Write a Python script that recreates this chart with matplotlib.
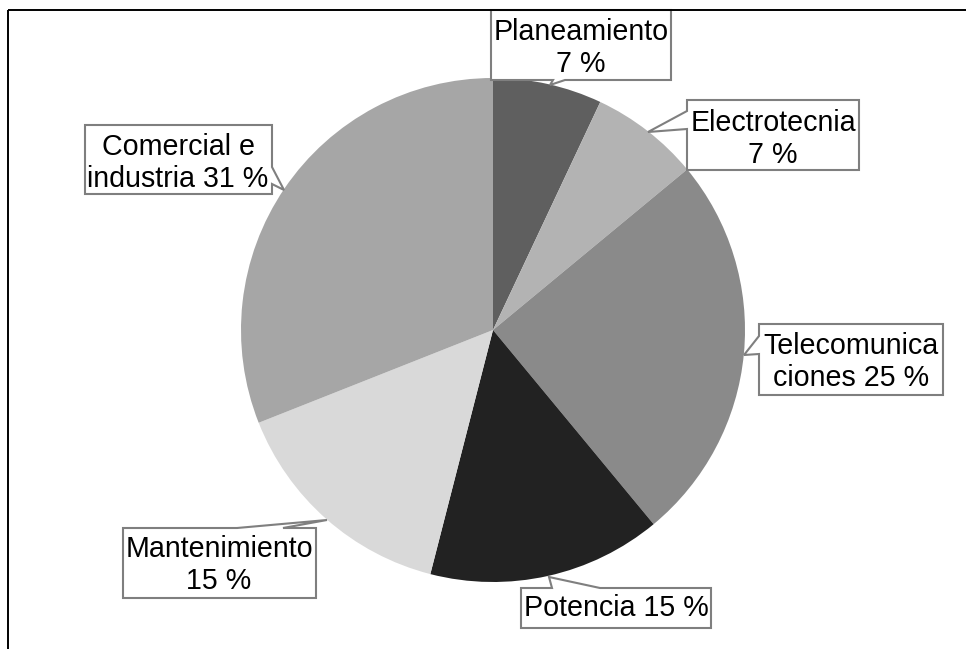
import matplotlib
matplotlib.use("Agg")
import matplotlib.pyplot as plt
from matplotlib.patches import Polygon

plt.rcParams['font.family'] = ['Liberation Sans', 'DejaVu Sans']

categories = ["Planeamiento", "Electrotecnia", "Telecomunicaciones", "Potencia",
              "Mantenimiento", "Comercial e industria"]
values = [7, 7, 25, 15, 15, 31]
label_texts = ["Planeamiento\n7 %", "Electrotecnia\n7 %", "Telecomunica\nciones 25 %",
               "Potencia 15 %", "Mantenimiento\n15 %", "Comercial e\nindustria 31 %"]
colors = ["#5f5f5f", "#b3b3b3", "#8a8a8a", "#222222", "#d9d9d9", "#a6a6a6"]

W, H = 966, 649
fig = plt.figure(figsize=(W / 100, H / 100), dpi=100)

# pie axes: centre (493, 330) px, radius 252 px
cx, cy, r = 493, 330, 252
ax = fig.add_axes([(cx - r) / W, (H - cy - r) / H, 2 * r / W, 2 * r / H])
ax.pie(values, colors=colors, startangle=90, counterclock=False, radius=1,
       wedgeprops=dict(linewidth=0))
ax.set_xlim(-1, 1)
ax.set_ylim(-1, 1)
ax.set_aspect('equal')
ax.axis('off')

# overlay in pixel coordinates for frame and callouts
ov = fig.add_axes([0, 0, 1, 1])
ov.set_xlim(0, W)
ov.set_ylim(H, 0)
ov.axis('off')
ov.patch.set_alpha(0)

ov.plot([8, W + 5], [10, 10], color='black', lw=1.4, solid_capstyle='butt')
ov.plot([8, 8], [10, H + 5], color='black', lw=1.4, solid_capstyle='butt')

# callout shapes (box with pointer), pixel coordinates
callouts = [
    # Planeamiento: pointer on bottom edge
    [(491, 10), (671, 10), (671, 80), (565, 80), (550, 85), (553, 80), (491, 80)],
    # Electrotecnia: pointer on left edge
    [(687, 100), (859, 100), (859, 170), (687, 170), (687, 129), (648, 132), (687, 111)],
    # Telecomunicaciones: pointer on left edge
    [(759, 324), (943, 324), (943, 395), (759, 395), (759, 354), (744, 355), (759, 336)],
    # Potencia: pointer on top edge
    [(521, 588), (552, 588), (549, 577), (600, 588), (711, 588), (711, 628), (521, 628)],
    # Mantenimiento: pointer on top edge
    [(123, 528), (237, 528), (327, 520), (283, 528), (316, 528), (316, 598), (123, 598)],
    # Comercial e industria: pointer on right edge
    [(85, 125), (272, 125), (272, 167), (284, 190), (272, 184), (272, 194), (85, 194)],
]
text_pos = [(581, 48), (773, 139), (851, 362), (616, 608), (219, 565), (178, 163)]

for poly, (tx, ty), txt in zip(callouts, text_pos, label_texts):
    ov.add_patch(Polygon(poly, closed=True, facecolor='white', edgecolor='#7f7f7f',
                         lw=1.5, joinstyle='miter'))
    ov.text(tx, ty, txt, ha='center', va='center', fontsize=20.6,
            color='black', linespacing=1.22)

fig.savefig("out.png", dpi=100, facecolor='white')
